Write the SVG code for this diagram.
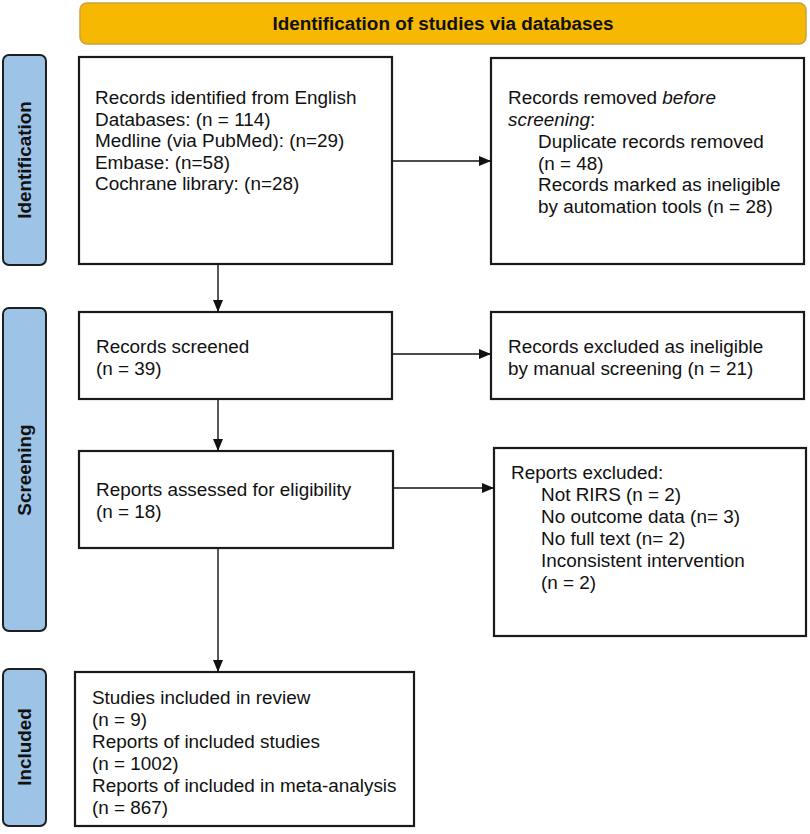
<svg xmlns="http://www.w3.org/2000/svg" width="810" height="834" viewBox="0 0 810 834">
<defs>
<style>
.box{fill:#fff;stroke:#1a1a1a;stroke-width:2.2}
.side{fill:#9dc3e6;stroke:#1f1f1f;stroke-width:2}
.t{font-family:"Liberation Sans",Arial,sans-serif;font-size:18.9px;fill:#111}
.b{font-family:"Liberation Sans",Arial,sans-serif;font-size:18.9px;font-weight:bold;fill:#111}
.c{stroke:#111;stroke-width:1.4;fill:none;marker-end:url(#ah)}
</style>
<marker id="ah" viewBox="0 0 12 10" refX="12" refY="5" markerWidth="12" markerHeight="10" markerUnits="userSpaceOnUse" orient="auto">
<path d="M0,0 L12,5 L0,10 Z" fill="#111"/>
</marker>
</defs>
<rect width="810" height="834" fill="#fff"/>
<g id="banner">
<rect x="80" y="3" width="726" height="41" rx="7" fill="#f6b800" stroke="#c9a240" stroke-width="1.5"/>
<text class="b" x="443" y="30" text-anchor="middle">Identification of studies via databases</text>
</g>
<g id="side-identification">
<rect class="side" x="3" y="55" width="43" height="210" rx="6"/>
<text class="b" transform="translate(31,160) rotate(-90)" text-anchor="middle">Identification</text>
</g>
<g id="side-screening">
<rect class="side" x="3" y="308" width="43" height="323" rx="6"/>
<text class="b" transform="translate(31,470) rotate(-90)" text-anchor="middle">Screening</text>
</g>
<g id="side-included">
<rect class="side" x="3" y="669" width="43" height="157" rx="6"/>
<text class="b" transform="translate(31,747) rotate(-90)" text-anchor="middle">Included</text>
</g>
<g id="records-identified">
<rect class="box" x="79" y="57" width="313" height="207"/>
<text class="t" x="95" y="104">Records identified from English</text>
<text class="t" x="95" y="125.5">Databases: (n = 114)</text>
<text class="t" x="95" y="147">Medline (via PubMed): (n=29)</text>
<text class="t" x="95" y="168.5">Embase: (n=58)</text>
<text class="t" x="95" y="190">Cochrane library: (n=28)</text>
</g>
<g id="records-removed">
<rect class="box" x="491" y="58" width="313" height="206"/>
<text class="t" x="508" y="104">Records removed <tspan font-style="italic">before</tspan></text>
<text class="t" x="508" y="126"><tspan font-style="italic">screening</tspan>:</text>
<text class="t" x="538" y="148">Duplicate records removed</text>
<text class="t" x="538" y="169.5">(n = 48)</text>
<text class="t" x="538" y="191">Records marked as ineligible</text>
<text class="t" x="538" y="213">by automation tools (n = 28)</text>
</g>
<g id="records-screened">
<rect class="box" x="79" y="312" width="313" height="87"/>
<text class="t" x="96" y="353">Records screened</text>
<text class="t" x="96" y="375">(n = 39)</text>
</g>
<g id="records-excluded">
<rect class="box" x="491" y="312" width="313" height="87"/>
<text class="t" x="508" y="353">Records excluded as ineligible</text>
<text class="t" x="508" y="375">by manual screening (n = 21)</text>
</g>
<g id="reports-assessed">
<rect class="box" x="79" y="451" width="314" height="97"/>
<text class="t" x="96" y="496">Reports assessed for eligibility</text>
<text class="t" x="96" y="518">(n = 18)</text>
</g>
<g id="reports-excluded">
<rect class="box" x="494" y="448" width="312" height="188"/>
<text class="t" x="511" y="479">Reports excluded:</text>
<text class="t" x="541" y="501">Not RIRS (n = 2)</text>
<text class="t" x="541" y="523">No outcome data (n= 3)</text>
<text class="t" x="541" y="545">No full text (n= 2)</text>
<text class="t" x="541" y="567">Inconsistent intervention</text>
<text class="t" x="541" y="589">(n = 2)</text>
</g>
<g id="studies-included">
<rect class="box" x="75" y="672" width="339" height="154"/>
<text class="t" x="92" y="704">Studies included in review</text>
<text class="t" x="92" y="726">(n = 9)</text>
<text class="t" x="92" y="748">Reports of included studies</text>
<text class="t" x="92" y="770">(n = 1002)</text>
<text class="t" x="92" y="792">Reports of included in meta-analysis</text>
<text class="t" x="92" y="814">(n = 867)</text>
</g>
<g id="connectors">
<line class="c" x1="393" y1="161" x2="491" y2="161"/>
<line class="c" x1="218" y1="265" x2="218" y2="312"/>
<line class="c" x1="393" y1="354" x2="491" y2="354"/>
<line class="c" x1="218" y1="400" x2="218" y2="451"/>
<line class="c" x1="394" y1="488" x2="494" y2="488"/>
<line class="c" x1="218" y1="549" x2="218" y2="672"/>
</g>
</svg>
